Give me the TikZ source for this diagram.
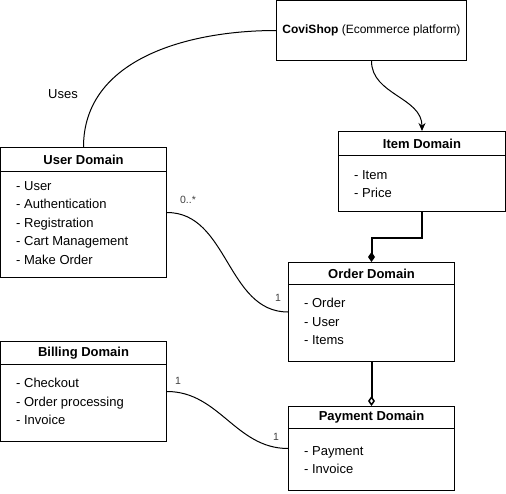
\documentclass[tikz,border=0pt]{standalone}
\usepackage{fontspec}
\setmainfont{Liberation Sans}
\usepackage{tikz}
\usetikzlibrary{arrows.meta}
\usetikzlibrary{calc}

\tikzset{
  classbox/.style={draw, line width=1pt, anchor=north west, inner sep=0pt},
  classhead/.style={draw, line width=1pt, anchor=north, inner sep=0pt,
                    font=\fontsize{13}{15}\selectfont\bfseries},
  classlist/.style={anchor=north west, inner sep=0pt, align=left,
                    font=\fontsize{13}{18.5}\selectfont},
  mult/.style={font=\fontsize{10.5}{12}\selectfont, text=black!75, inner sep=0pt},
  link/.style={line width=1pt},
  strong/.style={line width=2pt},
}

\begin{document}
\begin{tikzpicture}[x=1pt, y=1pt, font=\fontsize{12}{14}\selectfont]
  \useasboundingbox (0,0) rectangle (506,-493);
  \node[draw, line width=1pt, anchor=north west, minimum width=190pt, minimum height=60pt] (covi)
    at (276,0) {\textbf{CoviShop} (Ecommerce platform)};
  \foreach \nm/\x/\y/\w/\h/\hh/\ly/\ttl/\lst in {
      user/0/147/166/130/24/181/User Domain/{- User\\- Authentication\\- Registration\\- Cart Management\\- Make Order},
      item/338/131/167/80/24/170/Item Domain/{- Item\\- Price},
      order/288/262/166/99/22/298/Order Domain/{- Order\\- User\\- Items},
      bill/0/341/166/100/23/378/Billing Domain/{- Checkout\\- Order processing\\- Invoice},
      pay/288/406/166/84/22/446/Payment Domain/{- Payment\\- Invoice}}{
    \node[classbox, minimum width=\w pt, minimum height=\h pt] (\nm) at (\x,-\y) {};
    \node[classhead, minimum width=\w pt, minimum height=\hh pt] (\nm-h) at (\nm.north) {\ttl};
    \node[classlist] (\nm-l) at (\x+16,-\ly) {\lst};}

  \draw[link] (covi.west) to[out=180, in=90] (user.north);
  \node (uses) at (63,-94) {\fontsize{13}{15}\selectfont Uses};
  \draw[link, -{Stealth[length=8pt, width=7pt]}] (covi.south) to[out=270, in=90] (item.north);
  \draw[strong, -{Diamond[length=10pt, width=7pt]}] (item.south) -- ++(0,-26) -| (order.north);
  \draw[strong, -{Diamond[open, length=10pt, width=7pt, line width=1.5pt]}] (order.south) -- (pay.north);

  \draw[link] (user.east) to[out=0, in=180] (order.west);
  \node[mult] (m1) at (188,-200) {0..*};
  \node[mult] (m2) at (278,-298) {1};
  \draw[link] (bill.east) to[out=0, in=180] (pay.west);
  \node[mult] (m3) at (178,-381) {1};
  \node[mult] (m4) at (276,-437) {1};
\end{tikzpicture}
\end{document}
